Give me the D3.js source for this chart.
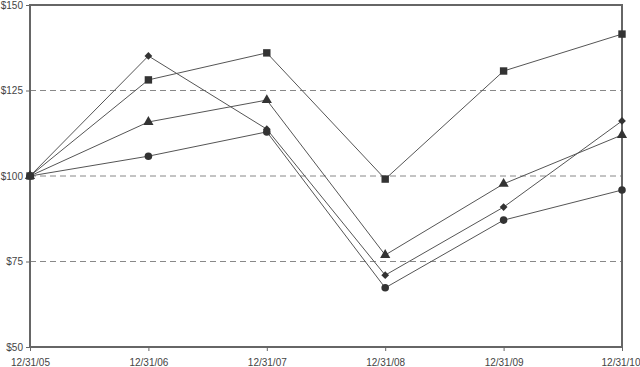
<!DOCTYPE html>
<html>
<head>
<script src="https://cdn.jsdelivr.net/npm/d3@7/dist/d3.min.js"></script>
<style>
  body { margin: 0; background: #fff; }
  text { font-family: "Liberation Sans", Arial, sans-serif; font-size: 10px; fill: #444; }
</style>
</head>
<body>
<svg id="chart" width="640" height="367"></svg>
<script>
var dates = ["12/31/05", "12/31/06", "12/31/07", "12/31/08", "12/31/09", "12/31/10"];
var yTicks = [50, 75, 100, 125, 150];
var diamondVals = [100, 135.1, 113.7, 71.0, 90.9, 116.1];
var squareVals = [100, 128.1, 136.0, 99.1, 130.7, 141.5];
var triangleVals = [100, 115.8, 122.2, 76.9, 97.7, 112.0];
var circleVals = [100, 105.8, 112.9, 67.3, 87.1, 95.9];

var series = [
  {values: diamondVals, shape: d3.symbolSquare, size: 30, rotate: 45},
  {values: squareVals, shape: d3.symbolSquare, size: 55, rotate: 0},
  {values: triangleVals, shape: d3.symbolTriangle, size: 45, rotate: 0},
  {values: circleVals, shape: d3.symbolCircle, size: 45, rotate: 0}
];

var margin = {top: 5, right: 18, bottom: 20, left: 30};
var width = 640 - margin.left - margin.right;
var height = 367 - margin.top - margin.bottom;

var svg = d3.select("#chart");
var g = svg.append("g").attr("transform", "translate(" + margin.left + "," + margin.top + ")");

var x = d3.scalePoint().domain(dates).range([0, width]);
var y = d3.scaleLinear().domain([50, 150]).range([height, 0]);

// dashed gridlines
g.selectAll(".grid").data([75, 100, 125]).enter().append("line")
  .attr("x1", 0).attr("x2", width)
  .attr("y1", function(d) { return y(d); }).attr("y2", function(d) { return y(d); })
  .attr("stroke", "#888").attr("stroke-width", 1).attr("stroke-dasharray", "6,4");

// frame
g.append("rect").attr("x", 0).attr("y", 0).attr("width", width).attr("height", height)
  .attr("fill", "none").attr("stroke", "#666").attr("stroke-width", 2);

var yAxis = g.append("g").call(d3.axisLeft(y).tickValues(yTicks).tickSize(4).tickPadding(3)
  .tickFormat(function(d) { return "$" + d; }));
yAxis.select(".domain").remove();
yAxis.selectAll("line").attr("stroke", "#666");

var xAxis = g.append("g").attr("transform", "translate(0," + height + ")")
  .call(d3.axisBottom(x).tickSize(4).tickPadding(8));
xAxis.select(".domain").remove();
xAxis.selectAll("line").attr("stroke", "#666");
xAxis.selectAll("text").filter(function(d, i) { return i == dates.length - 1; })
  .attr("text-anchor", "end").attr("dx", "18");

var line = d3.line()
  .x(function(d, i) { return x(dates[i]); })
  .y(function(d) { return y(d); });

series.forEach(function(s) {
  g.append("path").datum(s.values).attr("d", line)
    .attr("fill", "none").attr("stroke", "#555").attr("stroke-width", 1);
});

series.forEach(function(s) {
  g.selectAll(null).data(s.values).enter().append("path")
    .attr("d", d3.symbol().type(s.shape).size(s.size))
    .attr("transform", function(d, i) {
      return "translate(" + x(dates[i]) + "," + y(d) + ") rotate(" + s.rotate + ")";
    })
    .attr("fill", "#333");
});
</script>
</body>
</html>
